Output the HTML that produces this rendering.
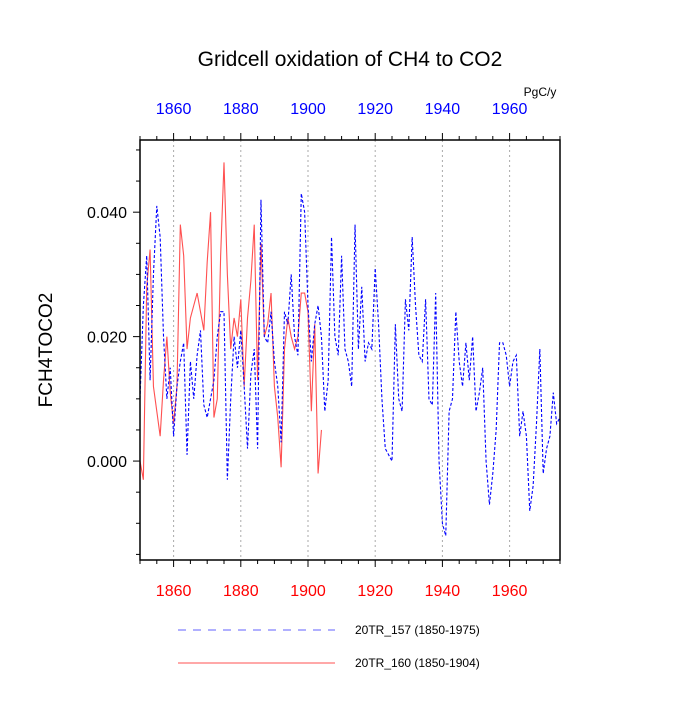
<!DOCTYPE html>
<html><head><meta charset="utf-8"><style>
body{margin:0;background:#fff}
svg text{font-family:"Liberation Sans",sans-serif}
</style></head><body>
<svg id="c" width="700" height="700">
<text x="350" y="66" font-size="21" text-anchor="middle">Gridcell oxidation of CH4 to CO2</text>
<text x="540" y="96" font-size="12" text-anchor="middle">PgC/y</text>
<text transform="translate(52,350) rotate(-90)" font-size="19" text-anchor="middle">FCH4TOCO2</text>
<g id="grid"></g><g id="series"></g><g id="axes"></g>
<g>
<line x1="178" y1="630" x2="335" y2="630" stroke="#6060ff" stroke-dasharray="8,7"/>
<text x="355" y="634" font-size="12">20TR_157 (1850-1975)</text>
<line x1="178" y1="663" x2="335" y2="663" stroke="#ff5050"/>
<text x="355" y="667" font-size="12">20TR_160 (1850-1904)</text>
</g>
</svg>
<script>
const blueStart=1850;
const blueVals=[0.010,0.025,0.033,0.013,0.030,0.041,0.036,0.020,0.010,0.015,0.004,0.012,0.016,0.019,0.001,0.016,0.010,0.017,0.021,0.009,0.007,0.010,0.013,0.020,0.024,0.024,-0.003,0.010,0.020,0.015,0.021,0.012,0.002,0.014,0.018,0.002,0.042,0.020,0.019,0.024,0.016,0.012,0.003,0.024,0.022,0.030,0.020,0.017,0.043,0.040,0.025,0.016,0.022,0.025,0.020,0.008,0.013,0.036,0.020,0.017,0.033,0.018,0.016,0.012,0.038,0.018,0.028,0.016,0.019,0.018,0.031,0.022,0.010,0.002,0.001,0.000,0.022,0.010,0.008,0.026,0.021,0.036,0.025,0.017,0.016,0.026,0.010,0.009,0.027,0.000,-0.010,-0.012,0.008,0.010,0.024,0.016,0.012,0.019,0.013,0.020,0.008,0.011,0.015,0.000,-0.007,-0.002,0.005,0.019,0.019,0.017,0.012,0.016,0.017,0.004,0.008,0.004,-0.008,-0.004,0.006,0.018,-0.002,0.002,0.004,0.011,0.006,0.007];
const redStart=1850;
const redVals=[0.000,-0.003,0.028,0.034,0.012,0.008,0.004,0.013,0.020,0.011,0.006,0.012,0.038,0.033,0.018,0.023,0.025,0.027,0.024,0.021,0.032,0.040,0.007,0.010,0.033,0.048,0.030,0.018,0.023,0.020,0.026,0.012,0.023,0.029,0.038,0.013,0.035,0.020,0.022,0.027,0.012,0.007,-0.001,0.018,0.023,0.020,0.018,0.020,0.027,0.027,0.024,0.008,0.022,-0.002,0.005];
const xTicks=[1860,1880,1900,1920,1940,1960];
const yTicks=[0.000,0.020,0.040];
const X0=140,X1=560,Y0=140,Y1=560;
const xMin=1850,xMax=1975,yMin=-0.0159,yMax=0.0516;
const sx=v=>X0+(v-xMin)/(xMax-xMin)*(X1-X0);
const sy=v=>Y1-(v-yMin)/(yMax-yMin)*(Y1-Y0);
const NS="http://www.w3.org/2000/svg";
function mk(p,t,a){const e=document.createElementNS(NS,t);for(const k in a)e.setAttribute(k,a[k]);p.appendChild(e);return e;}
const grid=document.getElementById('grid'),ser=document.getElementById('series'),ax=document.getElementById('axes');
xTicks.forEach(t=>{const l=mk(grid,'line',{x1:sx(t),x2:sx(t),y1:Y0,y2:Y1,stroke:'#aaa','stroke-dasharray':'2,3'});

});
function line(vals,start,color,dash,name){const pts=vals.map((v,i)=>sx(start+i).toFixed(2)+','+sy(v).toFixed(2)).join(' ');
const p=mk(ser,'polyline',{points:pts,fill:'none',stroke:color,'stroke-width':1.1});if(dash)p.setAttribute('stroke-dasharray',dash);

}
line(redVals,redStart,'#ff5050',null,'series-20tr-160');
line(blueVals,blueStart,'#0000ff','3,2','series-20tr-157');
const fr=mk(ax,'rect',{x:X0,y:Y0,width:X1-X0,height:Y1-Y0,fill:'none',stroke:'#000','stroke-width':1.5});


for(let y=1850;y<=1975;y+=5){const maj=y%20==0;const L=maj?7:4;
mk(ax,'line',{x1:sx(y),x2:sx(y),y1:Y1,y2:Y1+L,stroke:'#000'});
mk(ax,'line',{x1:sx(y),x2:sx(y),y1:Y0,y2:Y0-L,stroke:'#000'});}
xTicks.forEach(t=>{const a=mk(ax,'text',{x:sx(t),y:Y1+36,'font-size':16,fill:'#ff0000','text-anchor':'middle'});a.textContent=t;


const b=mk(ax,'text',{x:sx(t),y:Y0-26,'font-size':16,fill:'#0000ff','text-anchor':'middle'});b.textContent=t;

});
for(let v=-0.015;v<=0.0505;v+=0.005){const maj=Math.abs(Math.round(v*1000)%20)==0;
mk(ax,'line',{x1:X0,x2:X0-(maj?7:4),y1:sy(v),y2:sy(v),stroke:'#000'});}
yTicks.forEach(t=>{const a=mk(ax,'text',{x:X0-13,y:sy(t)+6,'font-size':16,'text-anchor':'end'});a.textContent=t.toFixed(3);

});
</script>
</body></html>
